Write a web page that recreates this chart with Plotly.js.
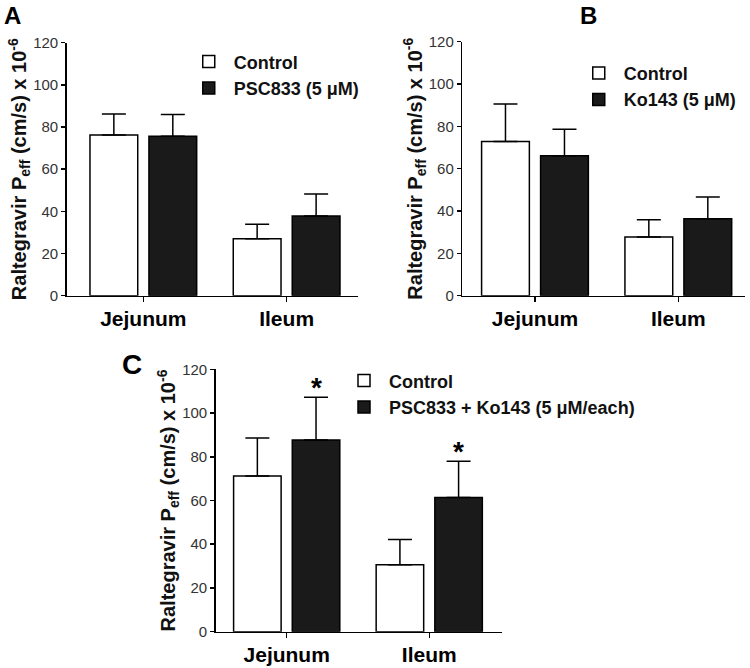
<!DOCTYPE html>
<html>
<head>
<meta charset="utf-8">
<script src="https://cdn.plot.ly/plotly-3.0.1.min.js"></script>
<style>
  body { margin: 0; background: #fff; }
  #chart { width: 750px; height: 668px; }
</style>
</head>
<body>
<div id="chart"></div>
<script>
const categories = ['Jejunum', 'Ileum'];

// panel A
const controlA = [76.2, 27.0];
const controlAErr = [10.0, 6.9];
const pscA = [75.6, 37.8];
const pscAErr = [10.4, 10.4];

// panel B
const controlB = [72.9, 27.7];
const controlBErr = [17.7, 8.2];
const koB = [66.1, 36.4];
const koBErr = [12.5, 10.2];

// panel C
const controlC = [71.2, 30.6];
const controlCErr = [17.4, 11.6];
const comboC = [87.7, 61.4];
const comboCErr = [19.5, 16.5];
const starC = [111.5, 82.5];

const yTicks = [0, 20, 40, 60, 80, 100, 120];
const font = 'Arial, "Liberation Sans", sans-serif';
const yTitle = 'Raltegravir P<sub>eff</sub> (cm/s) x 10<sup>-6</sup>';

function bars(y, err, fill, name, xa, ya, legend) {
	return {
		type: 'bar',
		x: categories,
		y: y,
		name: name,
		xaxis: xa,
		yaxis: ya,
		legend: legend,
		marker: {color: fill, line: {color: '#000', width: 1.5}},
		error_y: {
			type: 'data',
			symmetric: false,
			array: err,
			arrayminus: err.map(() => 0),
			color: '#000',
			thickness: 1.5,
			width: 12
		}
	};
}

const data = [
	bars(controlA, controlAErr, '#fff', 'Control', 'x', 'y', 'legend'),
	bars(pscA, pscAErr, '#1a1a1a', 'PSC833 (5 \u03bcM)', 'x', 'y', 'legend'),
	bars(controlB, controlBErr, '#fff', 'Control', 'x2', 'y2', 'legend2'),
	bars(koB, koBErr, '#1a1a1a', 'Ko143 (5 \u03bcM)', 'x2', 'y2', 'legend2'),
	bars(controlC, controlCErr, '#fff', 'Control', 'x3', 'y3', 'legend3'),
	bars(comboC, comboCErr, '#1a1a1a', 'PSC833 + Ko143 (5 \u03bcM/each)', 'x3', 'y3', 'legend3')
];

function xAxis(domain, range, anchor) {
	return {
		domain: domain,
		range: range,
		anchor: anchor,
		type: 'category',
		showline: true,
		linecolor: '#000',
		linewidth: 1.5,
		ticks: 'outside',
		ticklen: 5,
		tickwidth: 1.5,
		tickcolor: '#000',
		ticklabelstandoff: -1,
		showgrid: false,
		zeroline: false,
		tickfont: {family: font, size: 21, color: '#000', weight: 'bold'}
	};
}

function yAxis(domain, anchor) {
	return {
		domain: domain,
		range: [0, 120],
		anchor: anchor,
		tickvals: yTicks,
		showline: true,
		linecolor: '#000',
		linewidth: 1.5,
		ticks: 'outside',
		ticklen: 4,
		tickwidth: 1.5,
		tickcolor: '#000',
		showgrid: false,
		zeroline: false,
		tickfont: {family: font, size: 15, color: '#333'},
		title: {text: yTitle, standoff: 0, font: {family: font, size: 20, color: '#111', weight: 'bold'}}
	};
}

function legendAt(x, y) {
	return {
		x: x, y: y, xanchor: 'left', yanchor: 'top',
		bgcolor: 'rgba(0,0,0,0)',
		itemwidth: 40,
		font: {family: font, size: 18, color: '#111', weight: 'bold'},
		traceorder: 'normal',
		itemclick: false
	};
}

const layout = {
	width: 750,
	height: 668,
	margin: {l: 0, r: 0, t: 0, b: 0},
	paper_bgcolor: '#fff',
	plot_bgcolor: '#fff',
	barmode: 'group',
	bargap: 0.177,
	bargroupgap: 0.19,
	showlegend: true,
	xaxis: xAxis([0.0889, 0.4777], [-0.535, 1.5], 'y'),
	yaxis: yAxis([0.5573, 0.9361], 'x'),
	xaxis2: xAxis([0.6164, 0.9933], [-0.507, 1.465], 'y2'),
	yaxis2: yAxis([0.5573, 0.9376], 'x2'),
	xaxis3: xAxis([0.2876, 0.6689], [-0.498, 1.508], 'y3'),
	yaxis3: yAxis([0.0543, 0.4472], 'x3'),
	legend: legendAt(0.245, 0.935),
	legend2: legendAt(0.765, 0.918),
	legend3: legendAt(0.452, 0.4575),
	annotations: [
		{text: 'A', xref: 'paper', yref: 'paper', x: 0.003, y: 1.0, xanchor: 'left', yanchor: 'top', showarrow: false, font: {family: font, size: 24, color: '#000', weight: 'bold'}},
		{text: 'B', xref: 'paper', yref: 'paper', x: 0.77, y: 1.0, xanchor: 'left', yanchor: 'top', showarrow: false, font: {family: font, size: 24, color: '#000', weight: 'bold'}},
		{text: 'C', xref: 'paper', yref: 'paper', x: 0.16, y: 0.48, xanchor: 'left', yanchor: 'top', showarrow: false, font: {family: font, size: 28, color: '#000', weight: 'bold'}}
	].concat(categories.map((c, i) => ({
		text: '*', xref: 'x3', yref: 'y3', x: c, y: starC[i], xshift: 29.5,
		showarrow: false, yanchor: 'middle', font: {family: font, size: 28, color: '#000', weight: 'bold'}
	})))
};

Plotly.newPlot('chart', data, layout, {staticPlot: true});
</script>
</body>
</html>
